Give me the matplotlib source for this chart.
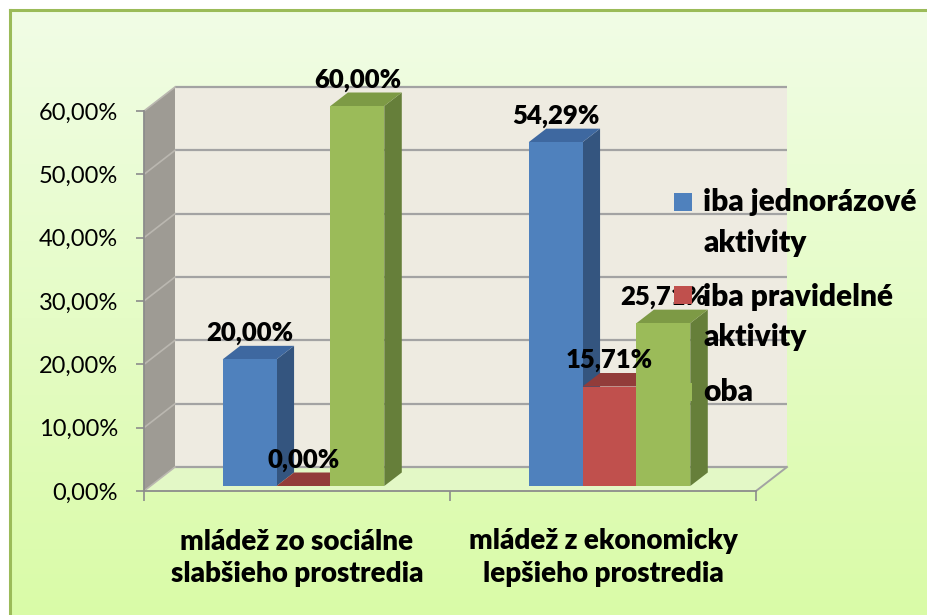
import numpy as np
import matplotlib
matplotlib.use("Agg")
import matplotlib.pyplot as plt
from matplotlib.patches import Polygon, Rectangle

# ---------------- data ----------------
categories = ["mládež zo sociálne\nslabšieho prostredia",
              "mládež z ekonomicky\nlepšieho prostredia"]
series_names = ["iba jednorázové\naktivity", "iba pravidelné\naktivity", "oba"]
jednorazove = [20.00, 54.29]
pravidelne = [0.00, 15.71]
oba = [60.00, 25.71]
y_ticks = [0, 10, 20, 30, 40, 50, 60]
y_tick_labels = ["0,00%", "10,00%", "20,00%", "30,00%", "40,00%", "50,00%", "60,00%"]

# ---------------- style ----------------
plt.rcParams['font.family'] = ['Lato', 'DejaVu Sans']
BOLD = "heavy"
front_cols = ["#4F81BD", "#C0504D", "#9BBB59"]
top_cols = ["#3E68A0", "#923C3A", "#7D9A45"]
side_cols = ["#34557F", "#8A3836", "#667F3A"]

W, H, DPI = 928, 615, 100
fig = plt.figure(figsize=(W / DPI, H / DPI), dpi=DPI, facecolor="white")

# background with gradient and green border
bg = fig.add_axes([10 / W, -0.02, 1 - 10 / W + 0.02, 1.02 - 10 / H])
grad = np.linspace(0, 1, 256)[:, None, None]
c_top = np.array([0xF1, 0xFD, 0xE6]) / 255
c_bot = np.array([0xD9, 0xFB, 0xA6]) / 255
img = c_top + (c_bot - c_top) * grad
bg.imshow(img, aspect="auto", extent=[0, 1, 0, 1], origin="upper")
bg.set_xticks([]); bg.set_yticks([])
for s in ["right", "bottom"]:
    bg.spines[s].set_visible(False)
for s in ["left", "top"]:
    bg.spines[s].set_color("#9BBB59")
    bg.spines[s].set_linewidth(2.2)

# main axes = front plane of the 3D box
ax = fig.add_axes([144 / W, 1 - 491 / H, 612 / W, 380 / H])
ax.set_xlim(0, 2)
ax.set_ylim(0, 60)
ax.patch.set_visible(False)

PXX = 612 / 2.0
PXY = 380 / 60.0
BX, BY = 31 / PXX, 24 / PXY      # back-wall offset
SX, SY = 6.5 / PXX, 5 / PXY      # bar plane offset
DX, DY = 17.5 / PXX, 13.5 / PXY  # bar depth

ymax = y_ticks[-1]
# walls and floor
ax.add_patch(Polygon([(BX, BY), (2 + BX, BY), (2 + BX, ymax + BY), (BX, ymax + BY)],
                     closed=True, fc="#EEEBE1", ec="none", zorder=0.5, clip_on=False))
ax.add_patch(Polygon([(0, 0), (0, ymax), (BX, ymax + BY), (BX, BY)],
                     closed=True, fc="#9E9B94", ec="none", zorder=0.6, clip_on=False))
ax.add_patch(Polygon([(0, 0), (2, 0), (2 + BX, BY), (BX, BY)],
                     closed=True, fc="#E3F8C6", ec="none", zorder=0.6, clip_on=False))
# gridlines
for t in y_ticks:
    ax.plot([BX, 2 + BX], [t + BY, t + BY], color="#A3A3A3", lw=1.6, zorder=0.8,
            clip_on=False, solid_capstyle="butt")
    ax.plot([0, BX], [t, t + BY], color="#BAB7B0", lw=1.2, zorder=0.8, clip_on=False)
ax.plot([2, 2 + BX], [0, BY], color="#A3A3A3", lw=1.4, zorder=0.8, clip_on=False)

# bars
values = [jednorazove, pravidelne, oba]
width = 0.176
xc = np.arange(len(categories)) + 0.5 + SX
for j, v in enumerate(values):
    xs = xc + (j - 1) * width
    z = 3 + j * 0.1
    bars = ax.bar(xs, v, width, bottom=SY, color=front_cols[j], zorder=z + 0.02,
                  clip_on=False, linewidth=0)
    for rect, val in zip(bars, v):
        x0 = rect.get_x(); x1 = x0 + rect.get_width()
        h0 = rect.get_y(); h1 = h0 + rect.get_height()
        ax.add_patch(Polygon([(x1, h0), (x1 + DX, h0 + DY), (x1 + DX, h1 + DY), (x1, h1)],
                             closed=True, fc=side_cols[j], ec="none", zorder=z, clip_on=False))
        ax.add_patch(Polygon([(x0, h1), (x1, h1), (x1 + DX, h1 + DY), (x0 + DX, h1 + DY)],
                             closed=True, fc=top_cols[j], ec="none", zorder=z + 0.01, clip_on=False))
        ax.annotate(f"{val:.2f}".replace(".", ",") + "%", xy=((x0 + x1) / 2, h1),
                    xytext=(0, 19), textcoords="offset points", ha="center", va="center",
                    fontsize=18.5, fontweight=BOLD, color="black", zorder=10,
                    annotation_clip=False)

# axes styling
for s in ["top", "right"]:
    ax.spines[s].set_visible(False)
for s in ["left", "bottom"]:
    ax.spines[s].set_color("#8C8C8C")
    ax.spines[s].set_linewidth(1.3)
    ax.spines[s].set_zorder(0.9)
ax.set_yticks(y_ticks, y_tick_labels)
ax.tick_params(axis="y", direction="out", length=5.8, width=1.2, color="#8C8C8C",
               pad=13, labelsize=17)
ax.set_xticks([0, 1, 2], ["", "", ""])
ax.tick_params(axis="x", which="major", direction="out", length=7.2, width=1.2,
               color="#8C8C8C")
ax.set_xticks([0.5, 1.5], categories, minor=True)
ax.tick_params(axis="x", which="minor", length=0, pad=27, labelsize=20)
for lab in ax.get_xticklabels(minor=True):
    lab.set_fontweight(BOLD)
    lab.set_linespacing(1.32)

# legend (manual, Excel-like)
leg_sq = [(674, 193), (674, 286), (674, 383)]
leg_lines = [(202, 243), (297, 337), (392,)]
for j, name in enumerate(series_names):
    sx, sy = leg_sq[j]
    fig.add_artist(Rectangle((sx / W, 1 - (sy + 18) / H), 18 / W, 18 / H,
                             transform=fig.transFigure, fc=front_cols[j], ec="none",
                             zorder=20))
    for line, ly in zip(name.split("\n"), leg_lines[j]):
        fig.text(703 / W, 1 - ly / H, line, ha="left", va="center", fontsize=21.5,
                 fontweight=BOLD, color="black", zorder=21)

fig.savefig("out.png", dpi=DPI, facecolor="white")
